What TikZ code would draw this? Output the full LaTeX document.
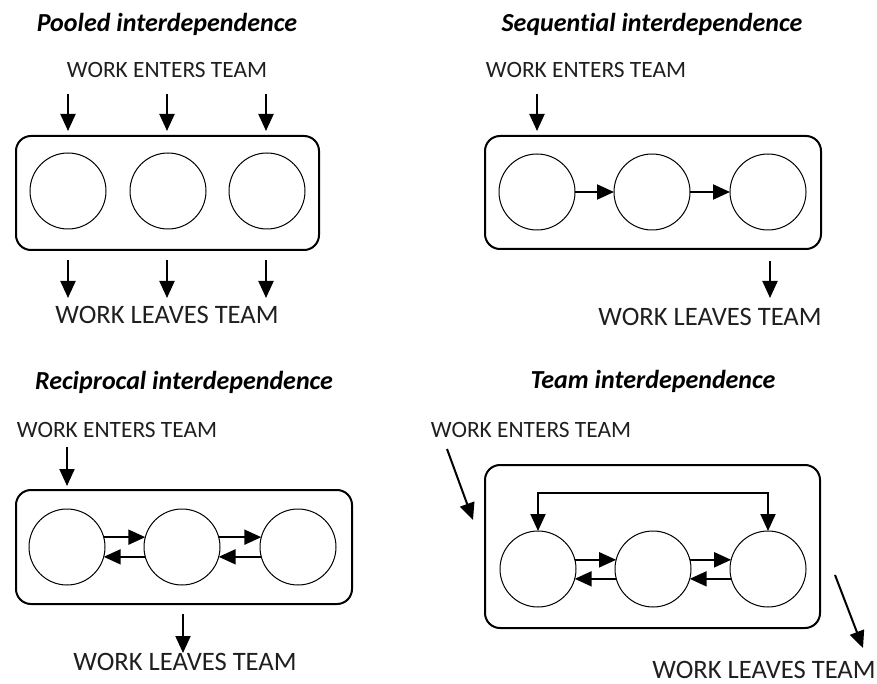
\documentclass[tikz,border=0pt]{standalone}
\usepackage{fontspec}
\setmainfont{Carlito}[Ligatures=NoCommon]
\usetikzlibrary{arrows.meta,calc}
\begin{document}
\begin{tikzpicture}[x=1pt,y=-1pt,
  title/.style={font=\fontsize{26}{30}\selectfont\bfseries\itshape, anchor=base, inner sep=0pt},
  inlabel/.style={font=\fontsize{23.4}{26}\selectfont, anchor=base, inner sep=0pt, text=black!88},
  outlabel/.style={font=\fontsize{26.6}{30}\selectfont, anchor=base, inner sep=0pt, text=black!88},
  member/.style={draw, circle, minimum size=76pt, inner sep=0pt, outer sep=0pt, line width=1pt},
  teambox/.style={draw, line width=2pt, rounded corners=15pt},
  flow/.style={line width=2pt, -{Triangle[length=17pt,width=15pt]}},
  flowb/.style={line width=2pt, {Triangle[length=17pt,width=15pt]}-{Triangle[length=17pt,width=15pt]}}
]
\useasboundingbox (0,0) rectangle (877,684);

% ---------- Pooled ----------
\node[title] (ptitle) at (167,32) {Pooled interdependence};
\node[inlabel] (pin) at (167,78) {WORK ENTERS TEAM};
\draw[teambox] (16,136) rectangle (319,250);
\node[member] (p1) at (68,191) {};
\node[member] (p2) at (168,191) {};
\node[member] (p3) at (267,191) {};
\coordinate (pa1) at (68,94);  \coordinate (pb1) at (68,131);
\coordinate (pa2) at (167,94); \coordinate (pb2) at (167,131);
\coordinate (pa3) at (266,94); \coordinate (pb3) at (266,131);
\draw[flow] (pa1) -- (pb1);
\draw[flow] (pa2) -- (pb2);
\draw[flow] (pa3) -- (pb3);
\coordinate (pc1) at (68,260);  \coordinate (pd1) at (68,298);
\coordinate (pc2) at (167,260); \coordinate (pd2) at (167,298);
\coordinate (pc3) at (266,260); \coordinate (pd3) at (266,298);
\draw[flow] (pc1) -- (pd1);
\draw[flow] (pc2) -- (pd2);
\draw[flow] (pc3) -- (pd3);
\node[outlabel] (pout) at (167,323) {WORK LEAVES TEAM};

% ---------- Sequential ----------
\node[title] (stitle) at (652,32) {Sequential interdependence};
\node[inlabel] (sin) at (586,78) {WORK ENTERS TEAM};
\draw[teambox] (485,136) rectangle (821,249);
\node[member] (s1) at (537,192) {};
\node[member] (s2) at (652,192) {};
\node[member] (s3) at (768,192) {};
\draw[flow] (s1) -- (s2);
\draw[flow] (s2) -- (s3);
\coordinate (sa) at (537,94); \coordinate (sb) at (537,131);
\draw[flow] (sa) -- (sb);
\coordinate (sc) at (770,261); \coordinate (sd) at (770,298);
\draw[flow] (sc) -- (sd);
\node[outlabel] (sout) at (710,325) {WORK LEAVES TEAM};

% ---------- Reciprocal ----------
\node[title] (rtitle) at (184,389) {Reciprocal interdependence};
\node[inlabel] (rin) at (117,437) {WORK ENTERS TEAM};
\draw[teambox] (16,490) rectangle (352,604);
\node[member] (r1) at (67,547) {};
\node[member] (r2) at (182,547) {};
\node[member] (r3) at (298,547) {};
\draw[flow] (r1.15) -- (r2.165);
\draw[flow] (r2.195) -- (r1.-15);
\draw[flow] (r2.15) -- (r3.165);
\draw[flow] (r3.195) -- (r2.-15);
\coordinate (ra) at (67,447); \coordinate (rb) at (67,486);
\draw[flow] (ra) -- (rb);
\coordinate (rc) at (183,614); \coordinate (rd) at (183,653);
\draw[flow] (rc) -- (rd);
\node[outlabel] (rout) at (185,670) {WORK LEAVES TEAM};

% ---------- Team ----------
\node[title] (ttitle) at (653,388) {Team interdependence};
\node[inlabel] (tin) at (531,437) {WORK ENTERS TEAM};
\draw[teambox] (485,465) rectangle (820,628);
\node[member] (t1) at (538,569) {};
\node[member] (t2) at (653,569) {};
\node[member] (t3) at (768,569) {};
\draw[flow] (t1.14) -- (t2.166);
\draw[flow] (t2.195) -- (t1.-15);
\draw[flow] (t2.14) -- (t3.166);
\draw[flow] (t3.195) -- (t2.-15);
\draw[flowb] (t1.north) -- ++(0,-38) -| (t3.north);
\coordinate (ta) at (447,449); \coordinate (tb) at (473,520);
\draw[flow] (ta) -- (tb);
\coordinate (tc) at (835,575); \coordinate (td) at (863,648);
\draw[flow] (tc) -- (td);
\node[outlabel] (tout) at (764,678) {WORK LEAVES TEAM};
\end{tikzpicture}
\end{document}
